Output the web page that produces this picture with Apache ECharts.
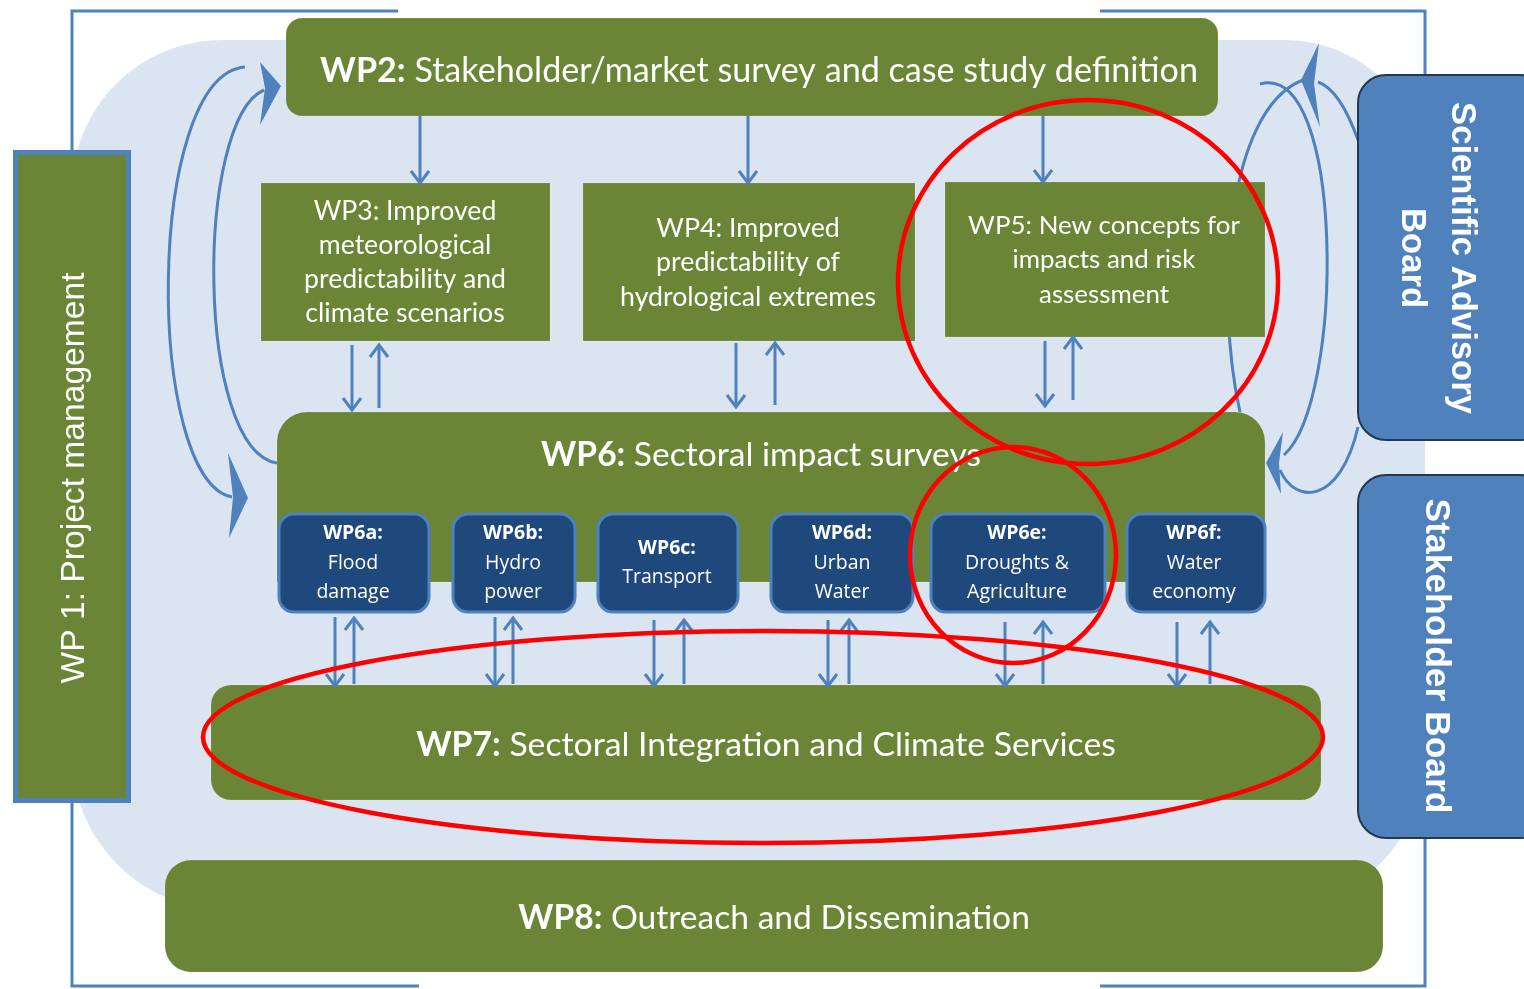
<!DOCTYPE html>
<html>
<head>
<meta charset="utf-8">
<script src="https://cdn.jsdelivr.net/npm/echarts@6/dist/echarts.min.js"></script>
<style>html,body{margin:0;padding:0;background:#fff;}#main{width:1524px;height:989px;}</style>
</head>
<body>
<div id="main"></div>
<script>
// ---------------- content (text) ----------------
const managementLabel = 'WP 1: Project management';
const surveyCode = 'WP2:';
const surveyTitle = 'Stakeholder/market survey and case study definition';
const researchCodes = ['WP3:', 'WP4:', 'WP5:'];
const researchLines = [
  ['Improved', 'meteorological', 'predictability and', 'climate scenarios'],
  ['Improved', 'predictability of', 'hydrological extremes'],
  ['New concepts for', 'impacts and risk', 'assessment']
];
const bandCodes = ['WP6:', 'WP7:', 'WP8:'];
const bandTitles = ['Sectoral impact surveys', 'Sectoral Integration and Climate Services', 'Outreach and Dissemination'];
const sectorCodes = ['WP6a:', 'WP6b:', 'WP6c:', 'WP6d:', 'WP6e:', 'WP6f:'];
const sectorLines = [['Flood', 'damage'], ['Hydro', 'power'], ['Transport'], ['Urban', 'Water'], ['Droughts &', 'Agriculture'], ['Water', 'economy']];
const boardLabels = [['Scientific Advisory', 'Board'], ['Stakeholder Board']];

// ---------------- layout (diagram units = pixels of the 1524x989 canvas) ----------------
const bgBox = [72, 40, 1353, 870];
const bgRadius = [150, 140, 155, 155];
const frameLines = [
  [[72, 150], [72, 11], [398, 11]],
  [[1100, 11], [1425, 11], [1425, 76]],
  [[72, 803], [72, 986], [419, 986]],
  [[1425, 838], [1425, 986], [1100, 986]]
];
const wp1Box = [15.5, 152.5, 113, 648];
const wp2Box = [286, 18, 932, 98];
const researchBoxes = [[261, 183, 289, 158], [583, 183, 332, 158], [945, 182, 320, 155]];
const bandBoxes = [[277, 412, 988, 170], [211, 685, 1110, 115], [165, 860, 1218, 112]];
const bandRadius = [[30, 30, 0, 0], 20, 26];
const sectorBoxes = [[279, 514, 150, 98], [453, 514, 122, 98], [598, 514, 140, 98], [771, 514, 142, 98], [931, 514, 174, 98], [1127, 514, 138, 98]];
const boardBoxes = [[1358, 75, 190, 365], [1358, 475, 190, 363]];

// text anchors [cx, cy, target width of widest line, line height]
const wp1Text = [75, 478, 411];
const wp2Text = [759, 71, 878];
const researchText = [[405, 262, 202, 34], [748, 262.5, 256, 34.5], [1104, 260, 272, 34.5]];
const bandText = [[761, 455, 440], [766, 745, 700], [774, 918, 512]];
const sectorTextX = [353, 513, 667, 842, 1017, 1194];
const sectorTextY = 563;
const boardText = [[1437, 258, 312, 50], [1436, 656, 315, 50]];

// arrows [x, yFrom, yTo]
const arrowList = [
  [420, 116, 183], [748, 116, 183], [1043, 116, 182],
  [352, 345, 410], [379, 408, 345],
  [736, 343, 407], [775, 405, 343],
  [1045, 341, 406], [1073, 400, 337],
  [335, 617, 686], [354, 684, 618],
  [495, 617, 686], [513, 684, 618],
  [654, 620, 686], [684, 684, 620],
  [828, 620, 686], [849, 684, 620],
  [1005, 622, 686], [1043, 684, 622],
  [1177, 622, 686], [1210, 684, 622]
];
// curved feedback loops (cubic bezier: x1,y1,cx1,cy1,cx2,cy2,x2,y2)
const loopCurves = [
  [245, 67, 145, 75, 145, 480, 232, 497],
  [277, 463, 195, 450, 195, 120, 264, 90],
  [1240, 412, 1215, 300, 1225, 110, 1303, 80],
  [1260, 84, 1345, 60, 1345, 400, 1284, 455],
  [1358, 140, 1348, 112, 1335, 88, 1318, 82],
  [1358, 427, 1340, 505, 1295, 505, 1280, 470]
];
const loopHeads = [
  [[228, 453], [248, 498], [229, 538], [233, 497]],
  [[260, 62], [281, 86], [260, 125], [265, 88]],
  [[1319, 43], [1301, 80], [1320, 127], [1314, 84]],
  [[1283, 432], [1266, 463], [1281, 494], [1279, 463]]
];
const highlightEllipses = [[1088, 282, 190, 182], [1013, 555, 103, 108], [763, 737, 560, 106]];

// ---------------- styles ----------------
const GREEN = '#6a8535', LIGHT = '#dbe5f1', BLUE = '#4f81bd', NAVY = '#1f497d', RED = '#ff0000';
const FONT_G = 'Lato';
const FONT_S = '"Open Sans"';
const FONT_A = '"Liberation Sans"';

const mctx = document.createElement('canvas').getContext('2d');
function textW(str, size, weight, family) {
  mctx.font = weight + ' ' + size + 'px ' + family;
  return mctx.measureText(str).width;
}
function lineW(parts, size, family) {
  return parts.reduce((s, p) => s + textW(p[0], size, p[1], family), 0);
}
function fitSize(lines, family, target) {
  let w = 0;
  lines.forEach(l => { w = Math.max(w, lineW(l, 100, family)); });
  return 100 * target / w;
}
function R(api, b) {
  const p0 = api.coord([b[0], b[1]]), p1 = api.coord([b[0] + b[2], b[1] + b[3]]);
  return { x: p0[0], y: p0[1], width: p1[0] - p0[0], height: p1[1] - p0[1] };
}
function P(api, p) { return api.coord([p[0], p[1]]); }

function textLines(api, cx, cy, lines, size, family, lh, color) {
  const els = [];
  const n = lines.length;
  lines.forEach((parts, i) => {
    const c = api.coord([cx, cy + (i - (n - 1) / 2) * lh]);
    const total = lineW(parts, size, family);
    let x = c[0] - total / 2;
    parts.forEach(p => {
      els.push({ type: 'text', x: x, y: c[1], style: { text: p[0], fill: color || '#fff', fontSize: size, fontFamily: family, fontWeight: p[1], align: 'left', verticalAlign: 'middle' } });
      x += textW(p[0], size, p[1], family);
    });
  });
  return els;
}
function rotatedText(api, cx, cy, lines, size, family, weight, lh, rot) {
  const c = api.coord([cx, cy]);
  return { type: 'text', x: c[0], y: c[1], rotation: rot,
    style: { text: lines.join('\n'), fill: '#fff', fontSize: size, fontFamily: family, fontWeight: weight, lineHeight: lh, align: 'center', verticalAlign: 'middle' } };
}

function renderBackground(params, api) {
  const ch = [];
  ch.push({ type: 'rect', shape: Object.assign(R(api, bgBox), { r: bgRadius }), style: { fill: LIGHT } });
  frameLines.forEach(pl => ch.push({ type: 'polyline', shape: { points: pl.map(p => P(api, p)) }, style: { stroke: BLUE, lineWidth: 3, fill: null } }));
  return { type: 'group', children: ch };
}
function renderLoops(params, api) {
  const ch = [];
  loopCurves.forEach(c => {
    const a = P(api, [c[0], c[1]]), b = P(api, [c[2], c[3]]), d = P(api, [c[4], c[5]]), e = P(api, [c[6], c[7]]);
    ch.push({ type: 'bezierCurve', shape: { x1: a[0], y1: a[1], cpx1: b[0], cpy1: b[1], cpx2: d[0], cpy2: d[1], x2: e[0], y2: e[1] }, style: { stroke: BLUE, lineWidth: 3, fill: null } });
  });
  loopHeads.forEach(h => ch.push({ type: 'polygon', shape: { points: h.map(p => P(api, p)) }, style: { fill: BLUE } }));
  return { type: 'group', children: ch };
}
function renderBoxes(params, api) {
  const ch = [];
  const edge = 'rgba(255,255,255,0.12)';
  // WP1
  ch.push({ type: 'rect', shape: R(api, wp1Box), style: { fill: GREEN, stroke: BLUE, lineWidth: 5 } });
  {
    const sz = fitSize([[[managementLabel, 'normal']]], FONT_A, wp1Text[2]);
    ch.push(rotatedText(api, wp1Text[0], wp1Text[1], [managementLabel], sz, FONT_A, 'normal', sz * 1.2, Math.PI / 2));
  }
  // WP2
  ch.push({ type: 'rect', shape: Object.assign(R(api, wp2Box), { r: 16 }), style: { fill: GREEN, stroke: edge, lineWidth: 1 } });
  {
    const ln = [[[surveyCode, 'bold'], [' ' + surveyTitle, 'normal']]];
    const sz = fitSize(ln, FONT_G, wp2Text[2]);
    textLines(api, wp2Text[0], wp2Text[1], ln, sz, FONT_G, 0).forEach(e => ch.push(e));
  }
  // WP3-5
  researchBoxes.forEach((b, i) => {
    ch.push({ type: 'rect', shape: R(api, b), style: { fill: GREEN, stroke: edge, lineWidth: 1 } });
    const lines = researchLines[i].map((t, k) => k === 0 ? [[researchCodes[i] + ' ' + t, 'normal']] : [[t, 'normal']]);
    const tp = researchText[i];
    const sz = fitSize(lines, FONT_G, tp[2]);
    textLines(api, tp[0], tp[1], lines, sz, FONT_G, tp[3]).forEach(e => ch.push(e));
  });
  // WP6-8
  bandBoxes.forEach((b, i) => {
    ch.push({ type: 'rect', shape: Object.assign(R(api, b), { r: bandRadius[i] }), style: { fill: GREEN, stroke: edge, lineWidth: 1 } });
    const ln = [[[bandCodes[i], 'bold'], [' ' + bandTitles[i], 'normal']]];
    const tp = bandText[i];
    const sz = fitSize(ln, FONT_G, tp[2]);
    textLines(api, tp[0], tp[1], ln, sz, FONT_G, 0).forEach(e => ch.push(e));
  });
  // WP6a-f
  sectorBoxes.forEach((b, i) => {
    ch.push({ type: 'rect', shape: Object.assign(R(api, b), { r: 15 }), style: { fill: NAVY, stroke: BLUE, lineWidth: 3 } });
    const lines = [[[sectorCodes[i], 'bold']]].concat(sectorLines[i].map(t => [[t, 'normal']]));
    textLines(api, sectorTextX[i], sectorTextY, lines, 19.5, FONT_S, 29.5).forEach(e => ch.push(e));
  });
  // Boards
  boardBoxes.forEach((b, i) => {
    ch.push({ type: 'rect', shape: Object.assign(R(api, b), { r: 28 }), style: { fill: BLUE, stroke: '#26384d', lineWidth: 2 } });
    const tp = boardText[i];
    const sz = fitSize([[[boardLabels[i][0], 'bold']]], FONT_A, tp[2]);
    ch.push(rotatedText(api, tp[0], tp[1], boardLabels[i], sz, FONT_A, 'bold', tp[3], -Math.PI / 2));
  });
  return { type: 'group', children: ch };
}
function renderArrows(params, api) {
  const ch = [];
  arrowList.forEach(a => {
    const x = a[0], y0 = a[1], y1 = a[2], d = y1 > y0 ? 1 : -1;
    ch.push({ type: 'line', shape: (() => { const p = P(api, [x, y0]), q = P(api, [x, y1 - d * 1.5]); return { x1: p[0], y1: p[1], x2: q[0], y2: q[1] }; })(), style: { stroke: BLUE, lineWidth: 3 } });
    ch.push({ type: 'polyline', shape: { points: [P(api, [x - 9, y1 - d * 12]), P(api, [x, y1]), P(api, [x + 9, y1 - d * 12])] }, style: { stroke: BLUE, lineWidth: 3, fill: null, lineJoin: 'miter' } });
  });
  return { type: 'group', children: ch };
}
function renderHighlights(params, api) {
  const ch = highlightEllipses.map(e => {
    const c = P(api, [e[0], e[1]]), r = P(api, [e[0] + e[2], e[1] + e[3]]);
    return { type: 'ellipse', shape: { cx: c[0], cy: c[1], rx: r[0] - c[0], ry: r[1] - c[1] }, style: { stroke: RED, lineWidth: 4.5, fill: null } };
  });
  return { type: 'group', children: ch };
}

const chart = echarts.init(document.getElementById('main'), null, { renderer: 'canvas' });
function layer(fn, z) {
  return { type: 'custom', coordinateSystem: 'cartesian2d', data: [[0, 0]], renderItem: fn, z: z, silent: true, clip: false, animation: false };
}
chart.setOption({
  animation: false,
  backgroundColor: '#ffffff',
  grid: { left: 0, right: 0, top: 0, bottom: 0 },
  xAxis: { type: 'value', min: 0, max: 1524, show: false },
  yAxis: { type: 'value', min: 0, max: 989, inverse: true, show: false },
  series: [
    layer(renderBackground, 1),
    layer(renderLoops, 2),
    layer(renderBoxes, 3),
    layer(renderArrows, 4),
    layer(renderHighlights, 5)
  ]
});
</script>
</body>
</html>
